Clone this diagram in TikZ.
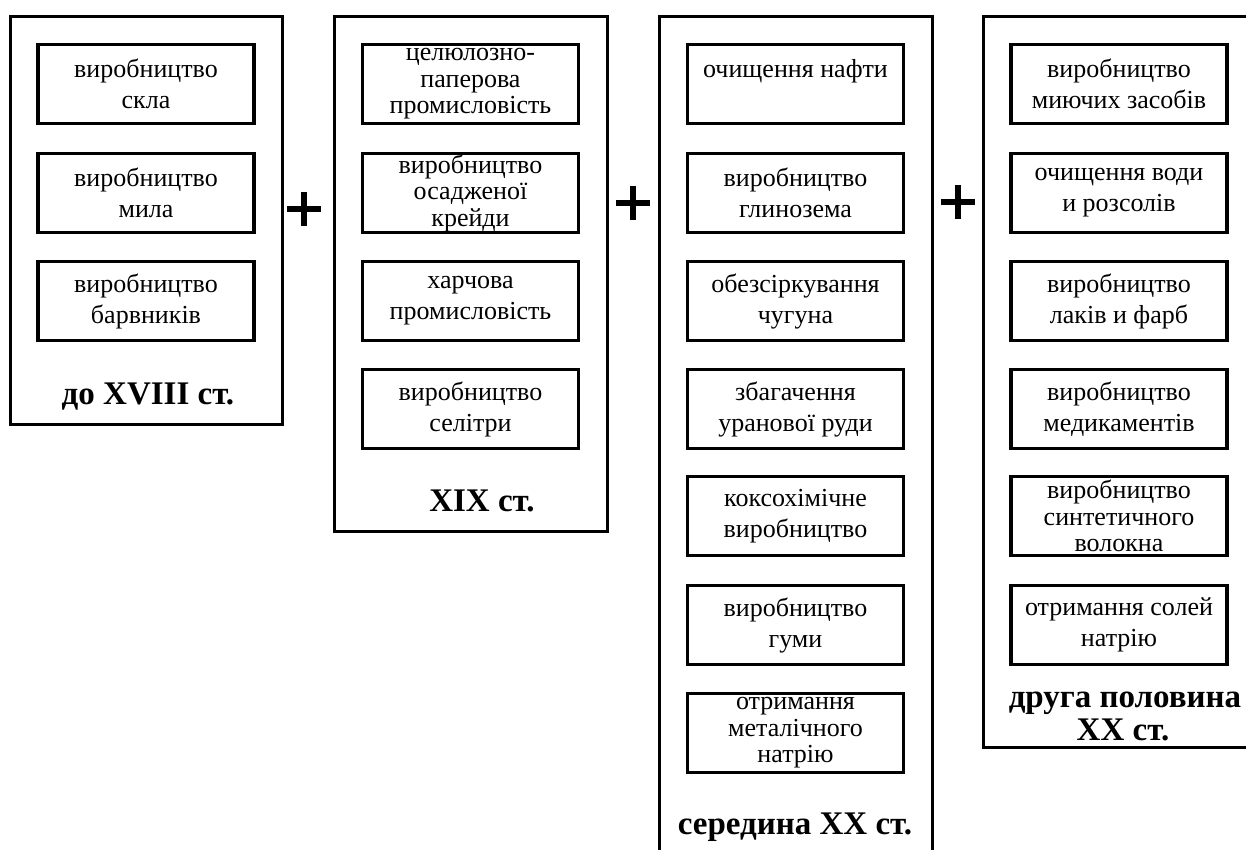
\documentclass[tikz,border=0pt]{standalone}
\usepackage{fontspec}
\setmainfont{Liberation Serif}

\begin{document}
\begin{tikzpicture}[x=1pt,y=-1pt]
        \tikzstyle{industry}=[draw,line width=3.5pt,minimum width=216pt,minimum height=79pt,inner sep=0pt,align=center,font=\fontsize{26}{31}\selectfont]
        \tikzstyle{tight}=[font=\fontsize{26}{26.5}\selectfont]
        \tikzstyle{periodbox}=[draw,line width=3pt]
        \tikzstyle{periodname}=[anchor=base,inner sep=0pt,font=\bfseries\fontsize{33}{36}\selectfont]
        \tikzstyle{plusmark}=[line width=6pt]
            \clip (0,0) rectangle (1246,849);

            % periods
            \draw[periodbox] (10,16) rectangle (282,424);
            \draw[periodbox] (334,16) rectangle (607,531);
            \draw[periodbox] (659,16) rectangle (932,870);
            \draw[periodbox] (983,16) rectangle (1270,747);

            % до XVIII ст.
            \node[industry] (glass) at (146,84) {виробництво\\скла};
            \node[industry] (soap) at (146,193) {виробництво\\мила};
            \node[industry] (dyes) at (146,301) {виробництво\\барвників};
            \node[periodname] (t1) at (148,404) {до XVIII ст.};

            % XIX ст.
            \node[industry,tight] (pulp) at (470.5,84) {целюлозно-\\паперова\\промисловість};
            \node[industry,tight] (chalk) at (470.5,193) {виробництво\\осадженої\\крейди};
            \node[industry] (food) at (470.5,301) {харчова\\промисловість};
            \node[industry] (saltpetre) at (470.5,409) {виробництво\\селітри};
            \node[periodname] (t2) at (482,511) {XIX ст.};

            % середина XX ст.
            \node[industry] (oil) at (795.5,84) {очищення нафти\\\mbox{}};
            \node[industry] (alumina) at (795.5,193) {виробництво\\глинозема};
            \node[industry] (iron) at (795.5,301) {обезсіркування\\чугуна};
            \node[industry] (uranium) at (795.5,409) {збагачення\\уранової руди};
            \node[industry] (coke) at (795.5,516) {коксохімічне\\виробництво};
            \node[industry] (rubber) at (795.5,625) {виробництво\\гуми};
            \node[industry,tight] (sodium) at (795.5,733) {отримання\\металічного\\натрію};
            \node[periodname] (t3) at (795,834) {середина XX ст.};

            % друга половина XX ст.
            \node[industry] (detergent) at (1119,84) {виробництво\\миючих засобів};
            \node[industry] (water) at (1119,193) {очищення води\\и розсолів};
            \node[industry] (paint) at (1119,301) {виробництво\\лаків и фарб};
            \node[industry] (drugs) at (1119,409) {виробництво\\медикаментів};
            \node[industry,tight] (fibre) at (1119,516) {виробництво\\синтетичного\\волокна};
            \node[industry] (salts) at (1119,625) {отримання солей\\натрію};
            \node[periodname] (t4a) at (1125,707) {друга половина};
            \node[periodname] (t4b) at (1123,740) {XX ст.};

            % plus signs
            \foreach \px/\py in {304/209, 633/203, 958/202}
                \draw[plusmark] (\px-17,\py) -- (\px+17,\py)
                (\px,\py-17) -- (\px,\py+17);
\end{tikzpicture}
\end{document}
